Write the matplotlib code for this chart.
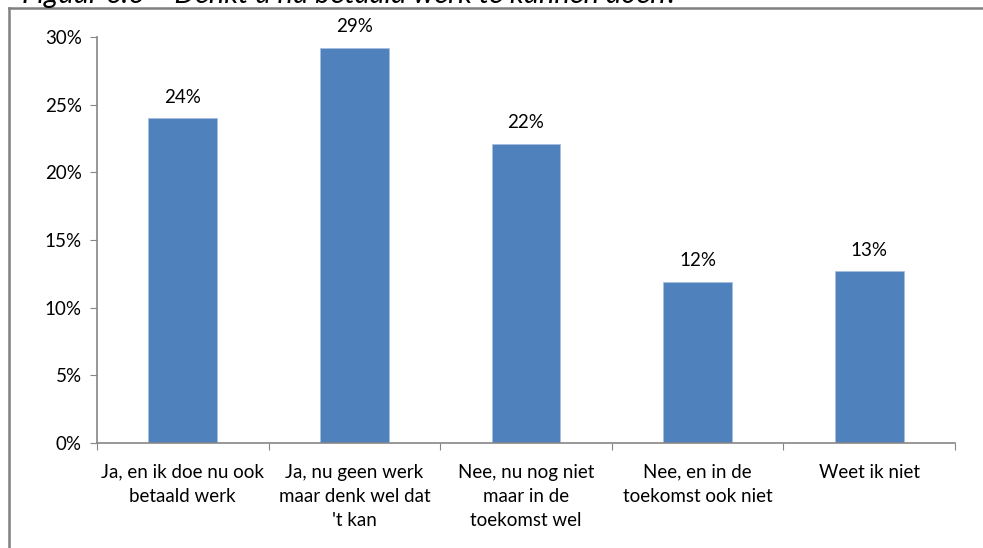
import matplotlib
matplotlib.use("Agg")
import matplotlib.pyplot as plt
from matplotlib.lines import Line2D

categories = ["Ja, en ik doe nu ook\nbetaald werk",
              "Ja, nu geen werk\nmaar denk wel dat\n't kan",
              "Nee, nu nog niet\nmaar in de\ntoekomst wel",
              "Nee, en in de\ntoekomst ook niet",
              "Weet ik niet"]
values = [24.0, 29.2, 22.1, 11.9, 12.7]
labels = ["24%", "29%", "22%", "12%", "13%"]
yticks = [0, 5, 10, 15, 20, 25, 30]
ytick_labels = ["0%", "5%", "10%", "15%", "20%", "25%", "30%"]
title = "Figuur 6.6 \u2013 Denkt u nu betaald werk te kunnen doen?"

plt.rcParams['font.family'] = ['Lato', 'DejaVu Sans']

W, H = 983, 548
FS = 13.5
fig = plt.figure(figsize=(W / 100, H / 100), dpi=100)
ax = fig.add_axes([97 / W, 1 - 443 / H, (955 - 97) / W, (443 - 37) / H])

x = list(range(len(categories)))
ax.bar(x, values, width=0.4, color="#4F81BD", edgecolor="#A7C0E0", linewidth=0.6)
ax.set_xlim(-0.5, len(categories) - 0.5)
ax.set_ylim(0, 30)

for xi, v, lab in zip(x, values, labels):
    ax.annotate(lab, (xi, v), xytext=(0, 9), textcoords="offset points",
                ha="center", va="bottom", fontsize=FS, color="black")

ax.set_yticks(yticks)
ax.set_yticklabels(ytick_labels, fontsize=FS)
ax.set_xticks([i - 0.5 for i in range(len(categories) + 1)], minor=False)
ax.set_xticklabels([""] * (len(categories) + 1))
ax.set_xticks(x, minor=True)
ax.set_xticklabels(categories, minor=True, fontsize=FS, linespacing=1.5)
ax.tick_params(axis="x", which="minor", length=0, pad=15)
ax.tick_params(axis="x", which="major", length=5, color="#868686", direction="out")
ax.tick_params(axis="y", length=5, color="#868686", direction="out", pad=6)

for side in ["top", "right"]:
    ax.spines[side].set_visible(False)
for side in ["left", "bottom"]:
    ax.spines[side].set_color("#868686")
    ax.spines[side].set_linewidth(1.2)

# chart frame
fig.add_artist(Line2D([8.5 / W, 1], [1 - 7.5 / H, 1 - 7.5 / H], color="#808080", lw=1.8,
                      transform=fig.transFigure))
fig.add_artist(Line2D([8.5 / W, 8.5 / W], [0, 1 - 7.5 / H], color="#808080", lw=1.8,
                      transform=fig.transFigure))

# cut-off title (partly outside the figure, as in the reference)
fig.text(22 / W, 1 - 3 / H, title, ha="left", va="baseline", fontsize=21,
         style="italic", color="black")

fig.savefig("out.png", dpi=100)
